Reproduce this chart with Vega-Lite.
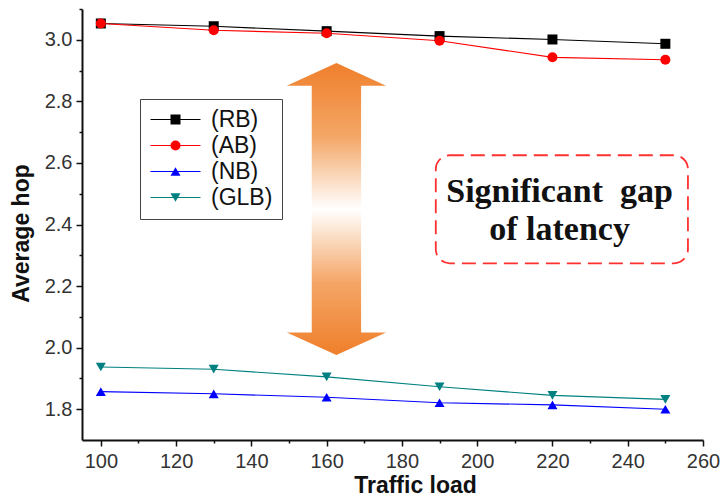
{
  "$schema": "https://vega.github.io/schema/vega-lite/v6.json",
  "width": 621,
  "height": 431,
  "autosize": {"type": "none"},
  "padding": {"left": 82, "top": 9, "right": 23, "bottom": 57},
  "background": "white",
  "config": {"view": {"stroke": null}, "font": "Liberation Sans"},
  "encoding": {
    "x": {
      "field": "load", "type": "quantitative", "title": "Traffic load",
      "scale": {"domain": [95, 260], "nice": false, "zero": false},
      "axis": {
        "values": [100, 110, 120, 130, 140, 150, 160, 170, 180, 190, 200, 210, 220, 230, 240, 250, 260],
        "labelExpr": "datum.value % 20 === 0 ? datum.label : ''",
        "labelOverlap": false, "labelBound": false, "labelFlush": false,
        "labelFontSize": 20, "labelColor": "#333333", "labelPadding": 5,
        "tickSize": {"condition": {"test": "datum.value % 20 === 0", "value": 6}, "value": 3},
        "tickColor": "#111111", "tickWidth": 1.5,
        "domainColor": "#111111", "domainWidth": 2,
        "grid": false,
        "titleFontSize": 23, "titleFontWeight": "bold", "titleColor": "#111111",
        "titleX": 333, "titleY": 52, "titleAlign": "center", "titleBaseline": "alphabetic"
      }
    },
    "y": {
      "field": "hop", "type": "quantitative", "title": "Average hop",
      "scale": {"domain": [1.7, 3.1], "nice": false, "zero": false},
      "axis": {
        "values": [1.8, 1.9, 2.0, 2.1, 2.2, 2.3, 2.4, 2.5, 2.6, 2.7, 2.8, 2.9, 3.0, 3.1],
        "labelExpr": "round(datum.value * 10) % 2 === 0 ? format(datum.value, '.1f') : ''",
        "labelOverlap": false, "labelBound": false, "labelFlush": false,
        "labelFontSize": 20, "labelColor": "#333333", "labelPadding": 4,
        "tickSize": {"condition": {"test": "round(datum.value * 10) % 2 === 0", "value": 6}, "value": 3},
        "tickColor": "#111111", "tickWidth": 1.5,
        "domainColor": "#111111", "domainWidth": 2,
        "grid": false,
        "titleFontSize": 23, "titleFontWeight": "bold", "titleColor": "#111111",
        "titleX": -54, "titleY": 224, "titleAlign": "center", "titleBaseline": "alphabetic", "titleAngle": -90
      }
    }
  },
  "layer": [
    {
      "data": {"values": [{"load": 162.6, "hop": 2.45}]},
      "mark": {
        "type": "point",
        "shape": "M0,-1 L0.34,-0.845 L0.169,-0.845 L0.169,0.845 L0.34,0.845 L0,1 L-0.34,0.845 L-0.169,0.845 L-0.169,-0.845 L-0.34,-0.845 Z",
        "filled": true,
        "size": 85264,
        "opacity": 1,
        "strokeWidth": 0,
        "fill": {
          "gradient": "linear",
          "x1": 0, "y1": 0, "x2": 0, "y2": 1,
          "stops": [
            {"offset": 0, "color": "#ef7f2b"},
            {"offset": 0.25, "color": "#f4a666"},
            {"offset": 0.5, "color": "#ffffff"},
            {"offset": 0.75, "color": "#f4a666"},
            {"offset": 1, "color": "#ef7f2b"}
          ]
        }
      }
    },
    {
      "data": {"values": [{"load": 189, "load2": 256, "hop": 2.625, "hop2": 2.274}]},
      "mark": {"type": "rect", "filled": false, "color": "#ff3030", "strokeWidth": 1.8, "strokeDash": [14, 7], "cornerRadius": 14},
      "encoding": {
        "x2": {"field": "load2"},
        "y2": {"field": "hop2"}
      }
    },
    {
      "data": {"values": [
        {"load": 221.9, "hop": 2.473, "t": "Significant\u00a0 gap"},
        {"load": 221.9, "hop": 2.349, "t": "of latency"}
      ]},
      "mark": {"type": "text", "font": "Liberation Serif", "fontWeight": "bold", "fontSize": 34, "align": "center", "baseline": "alphabetic", "color": "#111111"},
      "encoding": {
        "text": {"field": "t"}
      }
    },
    {
      "data": {"values": [
        {"load": 100, "hop": 3.053, "series": "(RB)"},
        {"load": 130, "hop": 3.044, "series": "(RB)"},
        {"load": 160, "hop": 3.028, "series": "(RB)"},
        {"load": 190, "hop": 3.012, "series": "(RB)"},
        {"load": 220, "hop": 3.001, "series": "(RB)"},
        {"load": 250, "hop": 2.987, "series": "(RB)"},
        {"load": 100, "hop": 3.053, "series": "(AB)"},
        {"load": 130, "hop": 3.031, "series": "(AB)"},
        {"load": 160, "hop": 3.021, "series": "(AB)"},
        {"load": 190, "hop": 2.997, "series": "(AB)"},
        {"load": 220, "hop": 2.943, "series": "(AB)"},
        {"load": 250, "hop": 2.935, "series": "(AB)"},
        {"load": 100, "hop": 1.857, "series": "(NB)"},
        {"load": 130, "hop": 1.850, "series": "(NB)"},
        {"load": 160, "hop": 1.839, "series": "(NB)"},
        {"load": 190, "hop": 1.821, "series": "(NB)"},
        {"load": 220, "hop": 1.814, "series": "(NB)"},
        {"load": 250, "hop": 1.800, "series": "(NB)"},
        {"load": 100, "hop": 1.937, "series": "(GLB)"},
        {"load": 130, "hop": 1.930, "series": "(GLB)"},
        {"load": 160, "hop": 1.905, "series": "(GLB)"},
        {"load": 190, "hop": 1.873, "series": "(GLB)"},
        {"load": 220, "hop": 1.845, "series": "(GLB)"},
        {"load": 250, "hop": 1.832, "series": "(GLB)"}
      ]},
      "layer": [
        {
          "mark": {"type": "line", "strokeWidth": 1.1},
          "encoding": {
            "color": {
              "field": "series", "type": "nominal",
              "sort": ["(RB)", "(AB)", "(NB)", "(GLB)"],
              "scale": {"range": ["#000000", "#ff0000", "#0000ff", "#008080"]},
              "legend": {
                "title": null,
                "orient": "none",
                "legendX": 58,
                "legendY": 90,
                "strokeColor": "#444444",
                "padding": 9,
                "rowPadding": 2,
                "labelFont": "Liberation Sans",
                "labelFontSize": 23,
                "labelColor": "#111111",
                "symbolType": "M-5,0L5,0",
                "symbolSize": 100,
                "symbolStrokeWidth": 1.2,
                "symbolOffset": 15,
                "labelOffset": 24
              }
            }
          }
        },
        {
          "mark": {"type": "point", "filled": true, "opacity": 1, "size": 100, "strokeWidth": 0},
          "encoding": {
            "shape": {
              "field": "series", "type": "nominal",
              "scale": {"domain": ["(RB)", "(AB)", "(NB)", "(GLB)"], "range": ["square", "circle", "triangle-up", "triangle-down"]},
              "legend": {
                "title": null,
                "orient": "none",
                "legendX": 58,
                "legendY": 90,
                "padding": 9,
                "rowPadding": 2,
                "labelFont": "Liberation Sans",
                "labelFontSize": 23,
                "labelExpr": "''",
                "symbolSize": 100,
                "symbolStrokeWidth": 1.2,
                "symbolOffset": 15,
                "labelOffset": 24
              }
            },
            "fill": {
              "field": "series", "type": "nominal",
              "scale": {"domain": ["(RB)", "(AB)", "(NB)", "(GLB)"], "range": ["#000000", "#ff0000", "#0000ff", "#008080"]},
              "legend": {
                "title": null,
                "orient": "none",
                "legendX": 58,
                "legendY": 90,
                "padding": 9,
                "rowPadding": 2,
                "labelFont": "Liberation Sans",
                "labelFontSize": 23,
                "labelExpr": "''",
                "symbolSize": 100,
                "symbolStrokeWidth": 1.2,
                "symbolOffset": 15,
                "labelOffset": 24
              }
            }
          }
        }
      ]
    }
  ]
}
